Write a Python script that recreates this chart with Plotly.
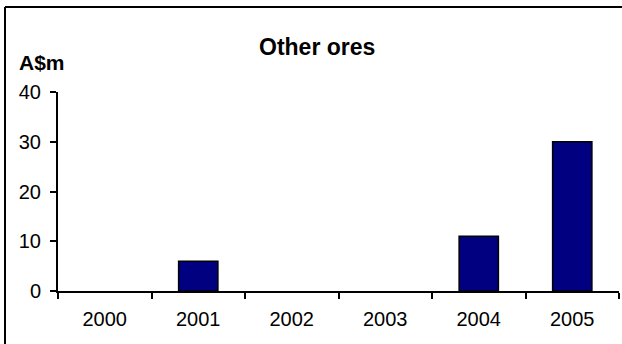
import plotly.graph_objects as go

years = ["2000", "2001", "2002", "2003", "2004", "2005"]
values = [0, 6, 0, 0, 11, 30]
y_ticks = [0, 10, 20, 30, 40]
title_text = "Other ores"
unit_text = "A$m"

W, H = 622, 344
L, R, T, B = 58, 3, 92, 53
pw, ph = W - L - R, H - T - B

def px(x):
    return (x - L) / pw

def py(y):
    return (H - B - y) / ph

fig = go.Figure(go.Bar(
    x=years, y=values,
    marker=dict(color="#000080",
                line=dict(color="black", width=[1.5 if v else 0 for v in values])),
))

fam = "Liberation Sans, Arial, sans-serif"
tick_font = dict(family=fam, size=20, color="black")

fig.update_layout(
    width=W, height=H,
    margin=dict(l=L, r=R, t=T, b=B),
    paper_bgcolor="white", plot_bgcolor="white",
    bargap=0.58,
    showlegend=False,
    font=tick_font,
    xaxis=dict(
        type="category", range=[-0.5, 5.5],
        showline=True, linecolor="black", linewidth=2,
        ticks="outside", tickson="boundaries", ticklen=6, tickwidth=2, tickcolor="black",
        showgrid=False, zeroline=False, tickfont=tick_font, ticklabelstandoff=9,
    ),
    yaxis=dict(
        range=[0, 40], tickvals=y_ticks,
        showline=True, linecolor="black", linewidth=2,
        ticks="outside", ticklen=6, tickwidth=2, tickcolor="black",
        showgrid=False, zeroline=False, tickfont=tick_font, ticklabelstandoff=5,
    ),
    annotations=[
        dict(text="<b>" + title_text + "</b>", x=px(317), y=py(47), xref="paper", yref="paper",
             showarrow=False, xanchor="center", yanchor="middle",
             font=dict(family=fam, size=23, color="black")),
        dict(text="<b>" + unit_text + "</b>", x=px(17), y=py(62), xref="paper", yref="paper",
             showarrow=False, xanchor="left", yanchor="middle",
             font=dict(family=fam, size=21, color="black")),
    ],
    shapes=[
        dict(type="line", xref="paper", yref="paper", x0=px(5), x1=px(630), y0=py(7), y1=py(7),
             line=dict(color="black", width=2)),
        dict(type="line", xref="paper", yref="paper", x0=px(5), x1=px(5), y0=py(7), y1=py(350),
             line=dict(color="black", width=2)),
    ],
)

fig.write_html("out.html", config={"displayModeBar": False},
               post_script="document.body.style.margin='0px';document.body.style.overflow='hidden';")
